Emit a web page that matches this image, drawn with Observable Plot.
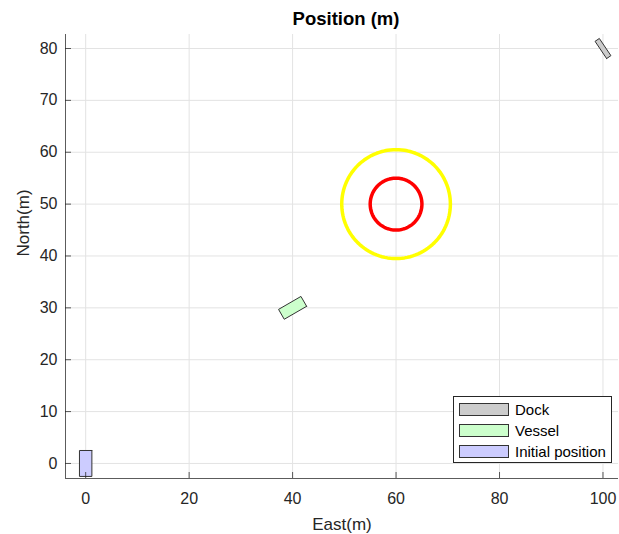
<!DOCTYPE html>
<html>
<head>
<meta charset="utf-8">
<script src="https://cdn.jsdelivr.net/npm/d3@7"></script>
<script src="https://cdn.jsdelivr.net/npm/@observablehq/plot@0.6"></script>
<style>
  html, body { margin: 0; padding: 0; background: #fff; }
  #wrap { position: relative; width: 619px; height: 534px; font-family: "Liberation Sans", Arial, sans-serif; }
  #legend { position: absolute; left: 453px; top: 396px; width: 159px; height: 67px; border: 1px solid #262626; background: #fff; box-sizing: border-box; }
  .item { position: absolute; left: 5px; height: 15px; display: flex; align-items: center; }
  .sw { width: 50px; height: 13px; border: 1px solid #333; box-sizing: border-box; }
  .lab { margin-left: 6px; font-size: 15px; color: #000; white-space: nowrap; }
</style>
</head>
<body>
<div id="wrap"></div>
<script>
// ---- data ----
const xTicks = [0, 20, 40, 60, 80, 100];
const yTicks = [0, 10, 20, 30, 40, 50, 60, 70, 80];
const xDomain = [-3.9, 103];
const yDomain = [-2.9, 82.7];

// target circles (center, radii)
const circleCenterX = 60;
const circleCenterY = 50;
const circleRadii = [10.5, 5];
const circleColors = ["#ffff00", "#ff0000"];

// ship-shaped rectangles
const shapeNames = ["Dock", "Vessel", "Initial position"];
const shapeX = [100, 40, 0];
const shapeY = [80, 30, 0];
const shapeHeading = [146, 60, 0];   // degrees from north, clockwise
const shapeLength = [4, 5, 5];
const shapeWidth = [1, 2.2, 2.4];
const shapeFill = ["#cccccc", "#ccffcc", "#ccccff"];

// ---- geometry helpers ----
function rectPoints(i) {
  const p = shapeHeading[i] * Math.PI / 180;
  const f = [Math.sin(p), Math.cos(p)];
  const s = [Math.cos(p), -Math.sin(p)];
  const L = shapeLength[i] / 2, W = shapeWidth[i] / 2;
  const corners = [[L, W], [L, -W], [-L, -W], [-L, W], [L, W]];
  return corners.map(([a, b]) => ({
    x: shapeX[i] + a * f[0] + b * s[0],
    y: shapeY[i] + a * f[1] + b * s[1]
  }));
}
function circlePoints(r) {
  return d3.range(0, 361, 3).map(t => ({
    x: circleCenterX + r * Math.cos(t * Math.PI / 180),
    y: circleCenterY + r * Math.sin(t * Math.PI / 180)
  }));
}

const marks = [
  Plot.gridX(xTicks, {stroke: "#e3e3e3", strokeOpacity: 1}),
  Plot.gridY(yTicks, {stroke: "#e3e3e3", strokeOpacity: 1}),
  ...circleRadii.map((r, i) => Plot.line(circlePoints(r), {x: "x", y: "y", stroke: circleColors[i], strokeWidth: 3.5})),
  ...shapeNames.map((n, i) => Plot.line(rectPoints(i), {x: "x", y: "y", fill: shapeFill[i], stroke: "#333333", strokeWidth: 1, strokeLinejoin: "miter"})),
  Plot.ruleX([xDomain[0]], {stroke: "#262626", strokeOpacity: 0.75}),
  Plot.ruleY([yDomain[0]], {stroke: "#262626", strokeOpacity: 0.75}),
  Plot.axisX(xTicks, {tickSize: -6, tickFormat: () => "", stroke: "#262626", strokeOpacity: 0.75, label: null}),
  Plot.axisY(yTicks, {tickSize: -6, tickFormat: () => "", stroke: "#262626", strokeOpacity: 0.75, label: null}),
  Plot.axisX(xTicks, {tickSize: 0, tickPadding: 14, fontSize: 16, fill: "#262626", label: null}),
  Plot.axisY(yTicks, {tickSize: 0, tickPadding: 8, fontSize: 16, fill: "#262626", label: null}),
  Plot.text(["Position (m)"], {frameAnchor: "top", lineAnchor: "middle", dx: 4, dy: -15, fontSize: 18.5, fontWeight: "bold", fill: "#000"}),
  Plot.text(["East(m)"], {frameAnchor: "bottom", lineAnchor: "middle", dy: 46, fontSize: 17, fill: "#262626"}),
  Plot.text(["North(m)"], {frameAnchor: "left", lineAnchor: "middle", dx: -42, rotate: -90, fontSize: 17, fill: "#262626"})
];

const chart = Plot.plot({
  width: 619,
  height: 534,
  marginLeft: 65,
  marginRight: 1,
  marginTop: 34,
  marginBottom: 56,
  style: {fontFamily: "'Liberation Sans', Arial, sans-serif", background: "#fff", overflow: "visible"},
  x: {domain: xDomain, axis: null},
  y: {domain: yDomain, axis: null},
  marks
});
const wrap = document.getElementById("wrap");
wrap.appendChild(chart);

// legend
const legend = document.createElement("div");
legend.id = "legend";
shapeNames.forEach((n, i) => {
  const it = document.createElement("div");
  it.className = "item";
  it.style.top = (5 + i * 21) + "px";
  it.innerHTML = `<div class="sw" style="background:${shapeFill[i]}"></div><span class="lab">${n}</span>`;
  legend.appendChild(it);
});
wrap.appendChild(legend);
</script>
</body>
</html>
